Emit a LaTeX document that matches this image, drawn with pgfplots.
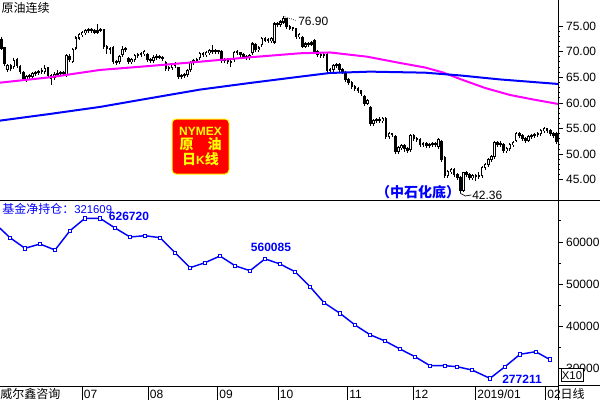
\documentclass[border=0pt]{standalone}
\usepackage{pgfplots}
\pgfplotsset{compat=1.18}
\usepackage{pgfplotstable}
\usepackage{fontspec}
\setmainfont{Liberation Sans}
\newfontfamily\cjk{Noto Sans CJK SC}
\definecolor{mag}{RGB}{255,0,255}
\definecolor{bl}{RGB}{0,0,255}
\definecolor{rd}{RGB}{255,0,0}
\definecolor{yl}{RGB}{255,255,0}
\newcommand\fa{\fontsize{9}{10}\selectfont}
\newcommand\fc{\cjk\fontsize{9}{10}\selectfont}

\pgfplotstableread{
i o h l c
0 72.27 72.90 70.30 70.71
1 70.71 71.00 67.20 67.60
2 66.43 67.60 66.00 67.21
3 67.21 67.50 66.20 66.62
4 67.01 68.80 66.70 68.18
5 68.38 68.70 66.90 67.21
6 67.01 67.30 65.60 66.04
7 65.84 66.20 64.30 64.67
8 64.48 65.50 64.10 65.06
9 65.06 65.60 64.70 65.26
10 65.06 66.00 64.80 65.65
11 65.65 66.20 65.30 65.84
12 65.84 66.50 65.50 66.04
13 66.04 66.90 65.70 66.23
14 66.04 67.30 65.70 66.62
15 66.82 67.10 64.90 65.26
16 65.26 65.60 63.50 64.67
17 64.87 66.00 64.50 65.45
18 65.45 66.40 65.10 65.65
19 65.65 66.30 65.30 65.84
20 65.84 66.20 65.30 65.65
21 65.45 69.50 65.10 69.16
22 68.96 69.50 68.00 68.38
23 67.99 70.80 67.70 70.33
24 70.71 73.10 70.40 72.66
25 72.66 73.60 72.30 73.25
26 73.25 74.10 72.90 73.64
27 73.64 74.50 73.30 74.03
28 74.03 74.60 73.60 74.22
29 74.22 74.60 73.70 74.03
30 74.03 74.40 73.50 73.83
31 73.83 75.30 73.50 74.03
32 74.03 74.60 73.80 74.22
33 74.22 74.50 70.50 70.91
34 70.91 71.30 69.50 70.52
35 70.52 71.00 69.60 70.33
36 70.71 71.10 67.60 67.99
37 67.99 68.40 67.40 67.79
38 67.99 69.30 67.60 68.96
39 69.35 71.10 69.00 70.33
40 70.33 70.90 69.90 70.52
41 68.57 68.90 67.60 67.99
42 67.99 68.80 67.60 68.38
43 68.38 69.60 68.00 69.16
44 69.16 69.80 68.80 69.35
45 69.35 69.90 69.00 69.55
46 69.55 70.40 69.20 69.94
47 69.35 69.70 68.00 68.38
48 68.38 68.70 67.80 68.18
49 68.18 69.30 67.80 68.77
50 68.77 69.50 68.40 68.96
51 68.96 69.40 68.50 68.86
52 68.77 69.20 68.20 68.57
53 67.79 68.10 66.20 66.62
54 66.62 67.20 66.20 66.82
55 66.82 67.80 66.50 67.40
56 67.40 67.90 66.80 67.21
57 66.82 67.10 64.60 65.06
58 65.06 65.60 64.70 65.26
59 65.26 65.90 64.90 65.45
60 65.45 66.60 65.10 66.23
61 66.43 68.10 66.10 67.79
62 67.79 68.50 67.40 68.18
63 68.18 68.80 67.80 68.38
64 68.77 69.90 68.40 69.55
65 69.55 69.90 69.00 69.35
66 69.35 70.10 69.00 69.74
67 69.74 70.50 69.40 70.13
68 70.13 71.30 69.60 69.94
69 69.94 70.50 69.60 70.13
70 70.13 70.40 69.60 69.94
71 69.94 70.30 67.80 68.18
72 68.18 68.70 67.80 68.38
73 68.38 68.70 67.60 67.99
74 67.99 68.30 67.00 67.79
75 68.38 70.10 68.00 69.74
76 69.74 70.30 69.40 69.94
77 69.74 70.00 69.00 69.35
78 69.35 69.70 68.60 68.96
79 68.96 69.30 68.40 68.77
80 68.77 69.50 68.40 69.16
81 69.74 71.80 69.40 71.49
82 71.30 71.60 69.90 70.33
83 70.33 71.10 69.90 70.71
84 71.30 72.80 70.90 72.47
85 72.47 72.80 71.90 72.27
86 72.27 72.60 71.70 72.08
87 72.08 72.80 71.70 72.47
88 71.88 75.70 71.50 75.39
89 75.39 75.70 74.80 75.20
90 75.20 76.20 74.90 75.78
91 75.78 76.90 75.40 76.37
92 76.37 76.60 74.40 74.81
93 74.81 75.10 74.20 74.61
94 74.61 74.90 74.00 74.42
95 74.42 74.70 72.50 72.86
96 72.86 73.60 72.40 73.25
97 72.66 73.00 70.70 71.10
98 71.10 71.90 70.70 71.49
99 71.49 71.90 71.00 71.40
100 71.49 72.10 71.10 71.69
101 72.08 72.40 69.50 69.94
102 69.94 70.30 69.00 69.35
103 69.35 69.70 68.80 69.16
104 69.16 69.80 68.80 69.35
105 69.35 69.70 65.90 66.23
106 66.23 66.80 65.90 66.43
107 66.43 67.60 66.10 67.21
108 67.21 67.80 66.90 67.40
109 67.40 67.70 66.10 66.43
110 66.43 66.80 65.70 66.04
111 65.84 66.20 64.10 64.48
112 64.48 64.80 63.50 63.89
113 63.89 64.20 62.70 63.11
114 63.11 63.50 62.40 62.72
115 62.72 63.10 61.90 62.33
116 62.33 62.60 61.40 61.75
117 61.16 61.50 59.40 59.80
118 59.80 60.80 59.50 60.39
119 59.02 59.40 55.50 55.90
120 55.90 56.90 55.50 56.49
121 56.49 57.10 56.10 56.68
122 56.68 57.20 56.10 56.49
123 56.49 57.20 56.10 56.88
124 56.88 57.20 53.00 53.37
125 53.37 54.40 53.00 53.95
126 53.95 54.20 53.30 53.76
127 53.37 53.70 50.00 50.45
128 50.45 51.60 50.00 51.22
129 51.22 52.00 50.80 51.61
130 51.61 52.00 50.50 51.03
131 51.03 51.40 50.20 50.64
132 50.83 54.00 50.50 53.56
133 53.56 53.90 52.60 52.98
134 52.98 53.30 52.40 52.78
135 52.78 53.10 51.40 51.81
136 51.81 52.40 51.40 52.00
137 52.00 52.40 51.20 51.61
138 51.61 52.20 51.20 51.81
139 51.81 52.40 51.50 52.00
140 52.00 52.30 51.40 51.81
141 51.42 53.20 51.10 52.78
142 52.39 52.70 48.50 48.89
143 49.28 49.60 45.40 45.77
144 45.77 47.00 45.40 46.55
145 46.55 47.40 46.20 46.94
146 46.94 47.30 45.60 45.96
147 45.96 46.30 45.00 45.38
148 45.38 45.70 42.36 42.84
149 42.84 46.60 42.60 46.35
150 46.35 46.70 45.60 45.96
151 45.96 46.30 45.00 45.38
152 45.38 46.10 45.00 45.77
153 45.77 46.10 44.80 45.57
154 45.57 46.60 45.20 45.77
155 45.77 47.70 45.40 47.33
156 47.33 48.30 47.00 47.91
157 47.91 49.30 47.60 48.89
158 48.89 49.90 48.50 49.47
159 49.47 52.60 49.10 52.20
160 52.20 52.60 51.40 51.81
161 51.81 52.50 51.50 52.00
162 51.81 52.10 50.20 50.64
163 50.64 51.40 50.30 51.03
164 51.03 52.20 50.70 51.81
165 51.81 52.60 51.50 52.20
166 52.59 54.30 52.30 53.95
167 53.95 54.30 53.20 53.56
168 53.56 53.90 52.60 52.98
169 52.98 53.30 52.20 52.59
170 52.59 53.80 52.30 53.37
171 53.37 53.90 53.00 53.56
172 53.56 54.20 53.20 53.76
173 53.76 54.40 53.40 53.95
174 53.95 54.90 53.60 54.54
175 54.54 55.40 54.20 54.93
176 54.93 55.20 54.20 54.54
177 54.54 54.90 53.60 53.95
178 53.95 54.30 53.20 53.56
179 53.95 54.30 51.90 52.39
}\kdata

\pgfplotstableread{
i v
-2.11 64355
2.73 61018
7.56 58509
12.40 59527
17.24 58106
22.08 62675
26.92 65610
31.76 65610
36.60 63314
41.44 61183
46.27 61491
51.11 61018
55.95 57467
60.79 53917
65.63 55101
70.47 56686
75.31 54390
80.15 53207
84.98 56009
89.82 54793
94.66 52970
99.50 49420
104.02 45633
109.18 43124
114.02 40355
118.85 38059
123.69 36568
128.53 34674
133.37 32852
138.21 30721
143.05 30721
146.92 30485
151.76 29704
157.56 27721
162.40 30485
167.24 33420
172.31 34035
176.92 32161
}\fund

\begin{document}
\begin{tikzpicture}[x=1pt,y=1pt]
\useasboundingbox (0,0) rectangle (450,300);

% ---------- upper panel: daily candles ----------
\begin{axis}[
  at={(0pt,150pt)}, anchor=south west, scale only axis,
  width=418.5pt, height=150pt,
  xmin=-0.5, xmax=179.5, ymin=41.07, ymax=80.07,
  axis x line=none, axis y line*=right,
  axis line style={line width=0.75pt},
  ytick={45,50,55,60,65,70,75},
  minor y tick num=4,
  tick align=outside,
  major tick length=3.75pt, minor tick length=1.2pt,
  tick style={black, line width=0.6pt},
  yticklabel style={font=\fa, xshift=-1.2pt, /pgf/number format/.cd, fixed, fixed zerofill, precision=2, assume math mode=true},
]
% wicks
\addplot[draw=none, mark=none, forget plot,
  error bars/.cd, y dir=both, y explicit, error mark=none,
  error bar style={draw=black, line width=0.75pt}]
  table[x=i, y=c, y error plus expr=\thisrow{h}-\thisrow{c}, y error minus expr=\thisrow{c}-\thisrow{l}] {\kdata};
% bodies
\addplot[draw=none, mark=none, forget plot,
  error bars/.cd, y dir=both, y explicit, error mark=none,
  error bar style={draw=black, line width=1.9pt}]
  table[x=i, y expr=(\thisrow{o}+\thisrow{c})/2, y error expr=abs(\thisrow{o}-\thisrow{c})/2+0.1] {\kdata};
% hollow interiors of rising candles
\addplot[draw=none, mark=none, forget plot,
  error bars/.cd, y dir=both, y explicit, error mark=none,
  error bar style={draw=white, line width=0.7pt}]
  table[x=i, y expr=(\thisrow{o}+\thisrow{c})/2, y error expr={max((\thisrow{c}-\thisrow{o})/2-0.1,0)}] {\kdata};
% moving averages
\addplot[mag, line width=1.5pt] coordinates {
(-0.5,63.95) (15.63,65.00) (31.76,66.43) (47.89,67.21) (64.02,68.04) (80.15,68.90)
(96.27,69.68) (105.95,69.84) (117.89,69.02) (128.53,67.79) (136.6,66.91) (142.4,65.94)
(147.9,64.67) (155.95,62.92) (164.0,61.55) (171.4,60.68) (179.5,59.80)};
\addplot[bl, line width=1.5pt] coordinates {
(-0.5,56.55) (15.63,57.85) (31.76,59.22) (44.66,60.58) (64.02,62.60) (80.15,63.89)
(96.27,65.12) (105.95,65.84) (118.85,66.10) (136.6,65.90) (147.9,65.36) (160.8,64.58) (179.5,63.70)};
\end{axis}

% ---------- lower panel: fund net position ----------
\begin{axis}[
  at={(0pt,10.5pt)}, anchor=south west, scale only axis,
  width=418.5pt, height=138.75pt,
  xmin=-0.5, xmax=179.5, ymin=25917, ymax=69704,
  axis x line*=bottom, axis y line*=right,
  axis line style={line width=0.75pt},
  xtick=\empty, minor xtick={5.5,10.5,...,175.5},
  ytick={30000,40000,50000,60000}, minor ytick={35000,45000,55000,65000},
  scaled y ticks=false,
  tick align=outside,
  major tick length=3.75pt, minor tick length=2.3pt,
  tick style={black, line width=0.6pt},
  yticklabel style={font=\fa, xshift=-1.2pt, /pgf/number format/.cd, fixed, 1000 sep={}, assume math mode=true},
]
\addplot[bl, line width=1.1pt, mark=square*, mark size=1.3pt,
  mark options={fill=white, draw=bl, line width=0.6pt}] table[x=i, y=v] {\fund};
\end{axis}

% ---------- frame pieces ----------
\draw[line width=0.75pt] (0,149.6) -- (450,149.6);
\draw[line width=0.75pt] (418.5,10.5) -- (450,10.5);
\draw[line width=0.75pt] (418.5,10.5) -- (418.5,0);
\foreach \x in {61.7,111.2,163.3,208.7,260.8,310.0,356.8,409.3}
  \draw[line width=0.75pt] (\x,10.5) -- (\x,0);

% ---------- texts ----------
\node[anchor=west, inner sep=0pt] at (1,294) {\fc 原油连续};
\draw[densely dotted, line width=0.5pt] (212.7,287.8) -- (222.5,284.4);
\node[anchor=west, inner sep=0pt] at (223.5,283.9) {\fa 76.90};
\draw[line width=0.5pt] (345.3,155.0) -- (349,153.0) -- (353.5,153.8);
\node[anchor=west, inner sep=0pt] at (354,153.75) {\fa 42.36};
\node[inner sep=0pt, text=bl] at (313.5,156.2) {\cjk\bfseries\fontsize{10.5}{11}\selectfont （中石化底）};
\node[fill=rd, draw=yl, line width=0.75pt, rounded corners=3pt,
  minimum width=42.75pt, minimum height=41.25pt, inner sep=0pt,
  align=center, text=yl, font=\bfseries\fontsize{9}{11}\selectfont] at (150.4,190.1)
  {NYMEX\\{\cjk\fontsize{10.5}{11}\selectfont 原\hspace{10.5pt}油}\\{\cjk\fontsize{10.5}{11}\selectfont 日}K{\cjk\fontsize{10.5}{11}\selectfont 线}};

\node[anchor=west, inner sep=0pt, text=bl] at (1.5,143.25) {\fc 基金净持仓：\fontspec{Liberation Sans}\fontsize{8.5}{10}\selectfont 321609};
\node[inner sep=0pt, text=bl] at (96.75,138) {\bfseries\fa 626720};
\node[inner sep=0pt, text=bl] at (203.25,114.75) {\bfseries\fa 560085};
\node[inner sep=0pt, text=bl] at (391.5,15.75) {\bfseries\fa 277211};
\node[fill=white, draw=black, line width=0.75pt, minimum width=16.5pt, minimum height=9.75pt, inner sep=0pt] at (429,18.4) {\fontsize{8.5}{10}\selectfont X10};

\node[anchor=west, inner sep=0pt] at (0,4.5) {\fc 威尔鑫咨询};
\node[anchor=west, inner sep=0pt] at (420.3,4.5) {\fc 日线};
\foreach \x/\t in {61.7/07,111.2/08,163.3/09,208.7/10,260.8/11,310.0/12,356.8/2019\slash 01,409.3/02}
  \node[anchor=west, inner sep=0pt] at (\x+1.0,4.5) {\fa \t};
\end{tikzpicture}
\end{document}
